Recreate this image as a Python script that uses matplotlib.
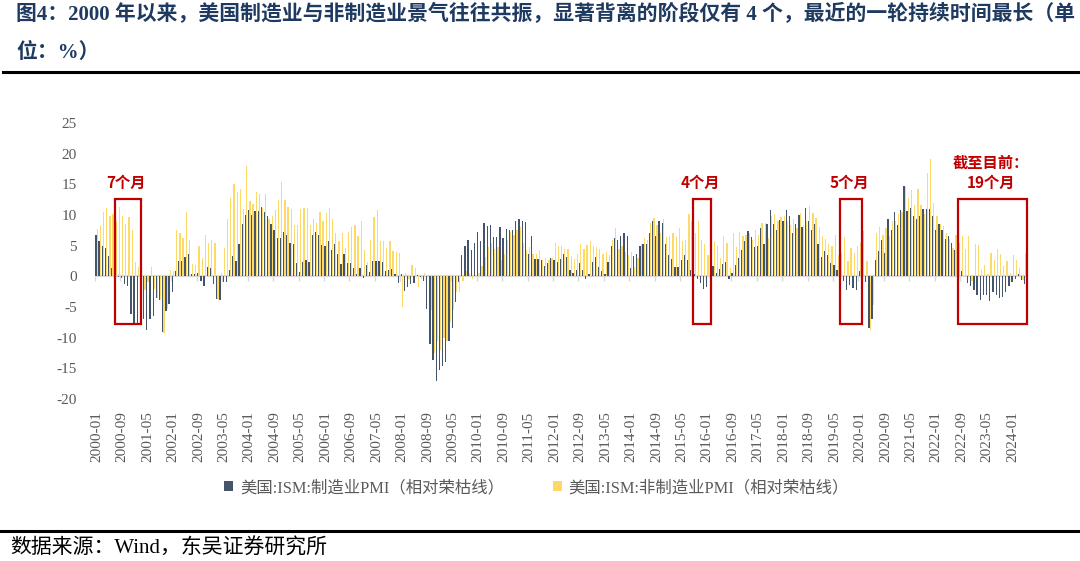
import numpy as np
import pandas as pd
import matplotlib.pyplot as plt
from matplotlib.patches import Rectangle

plt.rcParams['font.family'] = ['Liberation Serif', 'Noto Sans CJK SC']
plt.rcParams['axes.unicode_minus'] = False

# ISM 制造业 PMI 与荣枯线(50)之差，2000-01 ~ 2024-05
ism_mfg = [
    6.7, 5.8, 4.9, 4.7, 3.3, 1.4, 1.5, -0.1, -0.3, -1.3, -1.5, -6.1,      # 2000
    -7.6, -7.6, -6.9, -6.9, -8.7, -6.9, -6.5, -3.5, -3.8, -9.1, -5.7, -4.5,  # 2001
    -2.5, 0.8, 2.5, 2.5, 3.2, 3.6, 0.3, 0.3, 0.5, -0.8, -1.5, 1.6,        # 2002
    1.3, -1.2, -3.7, -3.9, -1.0, -1.0, 1.0, 3.3, 2.5, 5.3, 8.5, 10.0,     # 2003
    10.8, 10.0, 10.7, 10.7, 11.3, 10.5, 9.8, 8.5, 7.5, 6.3, 6.3, 7.2,     # 2004
    6.8, 5.5, 5.2, 2.2, 0.7, 2.4, 2.7, 2.4, 6.8, 7.2, 6.7, 5.1,           # 2005
    5.0, 5.8, 4.3, 5.2, 3.7, 2.0, 3.6, 2.2, 2.2, 1.4, 0.3, 1.4,           # 2006
    -0.3, 1.9, 0.7, 2.5, 2.5, 2.5, 2.4, 0.9, 1.0, 1.2, 0.4, -1.1,         # 2007
    0.3, -2.4, -1.7, -1.2, -1.1, 0.2, -0.1, -0.8, -5.3, -11.1, -13.6, -17.0,  # 2008
    -15.2, -14.6, -14.0, -10.6, -8.4, -4.2, -1.0, 3.5, 5.0, 6.0, 4.3, 5.4,    # 2009
    7.2, 5.8, 8.7, 8.2, 8.3, 6.4, 6.4, 8.0, 6.3, 7.7, 7.6, 7.5,           # 2010
    9.0, 9.3, 9.1, 8.9, 3.7, 6.5, 2.9, 2.9, 2.7, 1.7, 2.1, 3.0,           # 2011
    2.7, 2.4, 2.9, 3.7, 3.2, 1.0, 0.5, 1.1, 2.2, 1.1, -0.4, 0.4,          # 2012
    2.3, 3.1, 1.5, 0.8, 0.3, 2.4, 4.9, 6.3, 6.0, 6.5, 7.0, 6.5,           # 2013
    1.3, 3.3, 3.7, 4.9, 5.3, 5.3, 7.1, 9.0, 6.5, 9.0, 8.7, 5.2,           # 2014
    3.5, 2.8, 1.5, 1.5, 2.7, 3.5, 2.7, 1.1, 0.3, -0.5, -1.1, -2.0,        # 2015
    -1.8, 0.0, 1.7, 0.6, 1.2, 2.0, 2.4, -0.4, 0.6, 1.8, 3.0, 4.3,         # 2016
    5.8, 7.4, 6.4, 4.8, 4.9, 7.8, 5.2, 8.6, 10.8, 8.6, 7.5, 9.2,          # 2017
    9.0, 10.8, 9.8, 7.0, 8.6, 10.0, 8.0, 11.1, 9.0, 7.5, 8.6, 5.2,        # 2018
    3.2, 4.1, 3.5, 2.2, 1.8, 1.0, 0.8, -0.7, -2.3, -1.4, -1.9, -2.3,      # 2019
    0.8, 0.3, -1.0, -8.5, -7.0, 2.6, 4.1, 6.0, 3.8, 9.3, 7.5, 10.5,       # 2020
    8.3, 10.8, 14.7, 10.7, 11.1, 9.8, 9.3, 9.9, 10.9, 11.0, 11.0, 9.9,    # 2021
    7.6, 8.5, 7.5, 6.1, 6.6, 5.4, 4.3, 2.7, 0.8, 0.1, -1.1, -1.6,         # 2022
    -2.2, -3.0, -3.8, -3.1, -3.0, -4.1, -2.5, -3.0, -3.5, -3.4, -2.6, -1.5,  # 2023
    -1.0, -0.5, 0.3, -0.6, -1.3,                                          # 2024
]

# ISM 非制造业 PMI 与荣枯线之差
ism_nonmfg = [
    7.7, 8.2, 10.5, 11.1, 9.8, 10.2, 9.0, 11.3, 9.8, 8.5, 9.7, 7.5,       # 2000
    2.4, 1.5, -0.5, -2.2, -1.0, 1.6, -2.0, -3.5, -3.8, -9.3, -5.4, 1.0,   # 2001
    0.8, 7.5, 7.0, 6.3, 10.5, 6.0, 2.0, 1.8, 5.0, 3.0, 6.7, 5.5,          # 2002
    6.0, 5.5, -3.7, 0.5, 4.6, 9.3, 12.7, 15.0, 13.8, 14.3, 11.0, 18.0,    # 2003
    12.3, 11.8, 13.8, 13.4, 11.2, 13.5, 9.4, 9.8, 10.8, 12.5, 15.3, 12.5, # 2004
    11.3, 10.9, 8.4, 8.3, 11.0, 11.1, 11.2, 8.3, 9.3, 8.7, 10.5, 9.1,     # 2005
    10.4, 11.2, 9.3, 7.0, 5.8, 7.0, 4.7, 7.3, 8.0, 8.3, 6.6, 9.0,         # 2006
    4.3, 2.4, 6.0, 9.7, 10.8, 5.8, 5.8, 4.7, 5.8, 4.2, 4.0, 3.8,          # 2007
    -5.0, 0.5, -0.5, 1.8, 1.4, -1.7, -0.5, 0.5, 0.2, -5.5, -12.5, -10.5,  # 2008
    -12.0, -10.0, -10.5, -7.5, -5.5, -2.5, -2.5, -0.8, 0.8, 0.5, -0.5, 0.2,  # 2009
    0.5, 1.7, 3.2, 4.8, 5.4, 4.5, 4.8, 2.7, 3.7, 6.0, 7.2, 6.8,           # 2010
    7.6, 8.0, 5.4, 4.3, 4.8, 3.7, 3.7, 4.3, 2.7, 3.0, 2.7, 3.0,           # 2011
    5.5, 4.9, 5.0, 4.5, 4.5, 3.3, 2.8, 3.7, 5.3, 4.5, 5.1, 5.7,           # 2012
    4.9, 4.8, 4.5, 3.7, 3.9, 3.4, 5.9, 7.9, 4.5, 5.0, 3.9, 3.5,           # 2013
    3.9, 1.5, 3.0, 5.2, 6.3, 5.9, 8.7, 9.5, 8.4, 7.1, 9.3, 6.4,           # 2014
    6.6, 7.0, 6.4, 7.8, 5.7, 6.0, 10.2, 9.0, 7.0, 9.1, 5.9, 5.3,          # 2015
    3.5, 3.0, 5.7, 5.0, 3.0, 6.5, 5.4, 1.4, 7.1, 4.8, 7.2, 6.5,           # 2016
    6.8, 7.0, 6.0, 7.5, 6.8, 8.7, 8.7, 6.3, 9.9, 10.2, 9.1, 9.7,          # 2017
    9.9, 9.1, 8.3, 9.4, 7.8, 10.3, 8.4, 9.1, 11.5, 10.3, 9.5, 8.0,        # 2018
    6.6, 6.1, 5.3, 4.9, 6.8, 3.5, 3.8, 6.4, 2.5, 4.7, 3.8, 5.0,           # 2019
    5.5, 7.4, 2.5, -8.7, -4.6, 7.1, 8.1, 6.8, 7.9, 6.6, 9.0, 9.0,         # 2020
    10.1, 10.5, 14.5, 12.7, 14.1, 11.7, 14.3, 11.7, 10.1, 16.8, 19.2, 12.0,  # 2021
    9.9, 8.6, 8.2, 7.1, 6.1, 4.6, 6.7, 5.5, 6.6, 4.4, 6.6, -0.8,          # 2022
    5.2, 5.1, 1.1, 1.9, 0.3, 3.8, 2.6, 4.4, 3.7, 1.7, 2.5, 0.6,           # 2023
    3.4, 2.7, 1.4, -0.6, 3.8,                                             # 2024
]

months = pd.date_range('2000-01-01', periods=len(ism_mfg), freq='MS').strftime('%Y-%m')
label_mfg = '美国:ISM:制造业PMI（相对荣枯线）'
label_nonmfg = '美国:ISM:非制造业PMI（相对荣枯线）'

# 背离阶段标注框（左右边缘，以月序号计）及文字
box_edges = [(5.8, 14.0), (187.4, 193.1), (233.8, 240.6), (270.9, 292.5)]
box_texts = ['7个月', '4个月', '5个月', '截至目前：\n19个月']

W, H = 1080, 561
fig = plt.figure(figsize=(W / 100, H / 100), dpi=100)
ax = fig.add_axes([95 / W, 1 - 399 / H, (1027 - 95) / W, (399 - 123) / H])

x = np.arange(len(months))
ax.bar(x - 0.2, ism_mfg, width=0.4, color='#44546A', label=label_mfg, zorder=3)
ax.bar(x + 0.2, ism_nonmfg, width=0.4, color='#FFD966', label=label_nonmfg, zorder=2)

ax.set_xlim(-0.5, len(months) - 0.5)
ax.set_ylim(-20, 25)
ax.set_yticks(range(-20, 30, 5))
ax.axhline(0, color='#D9D9D9', lw=1.6, zorder=1)

tick_pos = x[::8]
ax.set_xticks(tick_pos)
ax.set_xticklabels(months[::8], rotation=90)
ax.vlines(tick_pos - 0.5, -0.8, 0, color='#D9D9D9', lw=1, zorder=1)
ax.tick_params(axis='x', length=0, pad=9, labelsize=11, labelcolor='#595959')
ax.tick_params(axis='y', length=0, pad=13, labelsize=11, labelcolor='#595959')
for s in ax.spines.values():
    s.set_visible(False)

red = '#C00000'
for (a, b), text in zip(box_edges, box_texts):
    ax.add_patch(Rectangle((a, -7.7), b - a, 20.3, fill=False, ec=red, lw=1.6,
                           zorder=4, clip_on=False))
    ty = 15.3 if '\n' not in text else 16.9
    ax.text((a + b) / 2 - 0.5, ty, text, color=red, fontsize=11, fontweight='bold',
            family=['Noto Sans CJK SC'], ha='center', va='center', linespacing=1.35)

leg = fig.legend(loc='center', bbox_to_anchor=(0.497, 1 - 488 / H), ncol=2, frameon=False,
                 fontsize=11.8, handlelength=0.55, handleheight=0.55, handletextpad=0.4,
                 columnspacing=3.0)
for t in leg.get_texts():
    t.set_color('#595959')

title1 = '图4：2000 年以来，美国制造业与非制造业景气往往共振，显著背离的阶段仅有 4 个，最近的一轮持续时间最长（单'
title2 = '位：%）'
fig.text(16 / W, 1 - 15 / H, title1, fontsize=15, fontweight='bold', color='#1F3A60', va='center')
fig.text(16 / W, 1 - 53 / H, title2, fontsize=15, fontweight='bold', color='#1F3A60', va='center')
fig.add_artist(plt.Line2D([3 / W, 1], [1 - 72 / H] * 2, color='black', lw=2.2))
fig.add_artist(plt.Line2D([0, 1], [1 - 531 / H] * 2, color='black', lw=2.2))
fig.text(10 / W, 1 - 549 / H, '数据来源：Wind，东吴证券研究所', fontsize=15, color='black', va='center')

fig.savefig('out.png', dpi=100)
